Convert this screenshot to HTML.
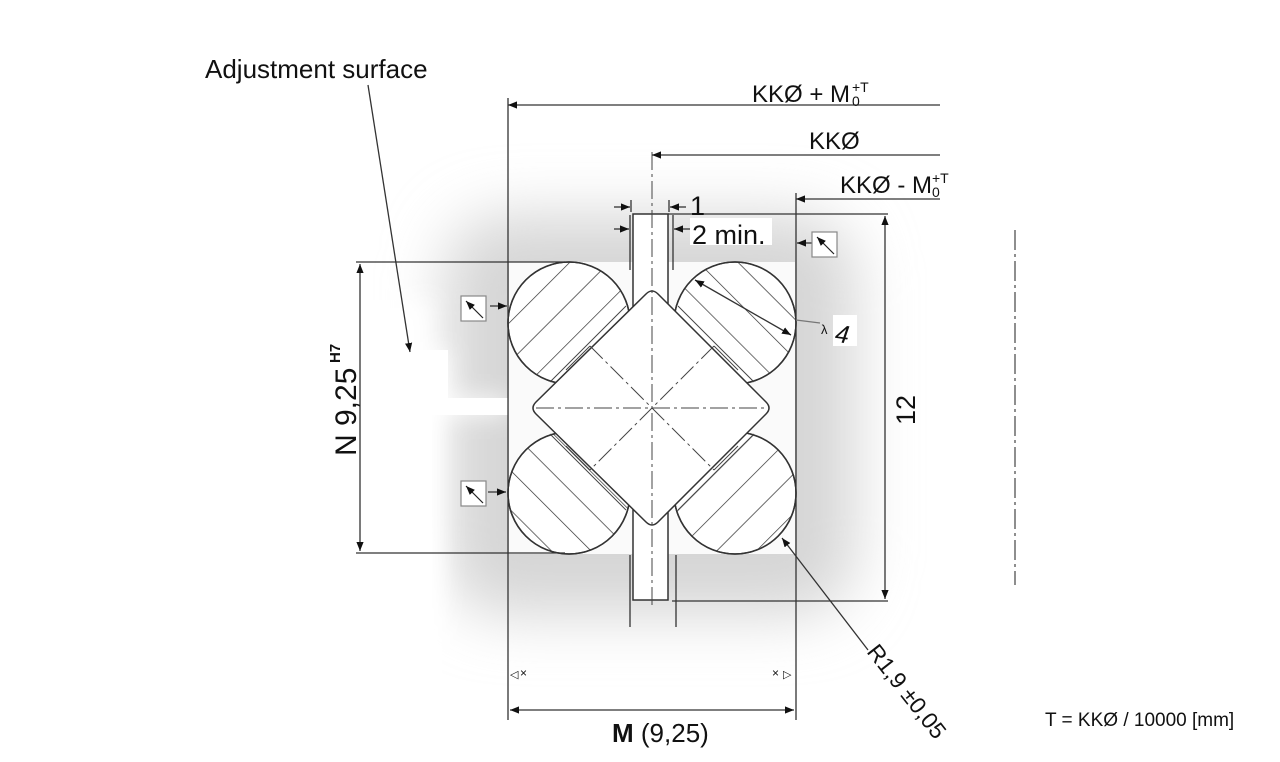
<!DOCTYPE html>
<html><head><style>
html,body{margin:0;padding:0;background:#fff;width:1280px;height:762px;overflow:hidden}
svg{display:block}
text{font-family:"Liberation Sans",sans-serif;fill:#111}
</style></head><body>
<svg width="1280" height="762" viewBox="0 0 1280 762" xmlns="http://www.w3.org/2000/svg">
<defs>
<filter id="bl" x="-40%" y="-40%" width="180%" height="180%"><feGaussianBlur stdDeviation="30"/></filter>
<filter id="bl2" x="-40%" y="-40%" width="180%" height="180%"><feGaussianBlur stdDeviation="12"/></filter>
<pattern id="h1" width="28" height="28" patternUnits="userSpaceOnUse" patternTransform="rotate(45)"><line x1="0" y1="0" x2="0" y2="28" stroke="#333" stroke-width="1.4"/></pattern>
<pattern id="h2" width="28" height="28" patternUnits="userSpaceOnUse" patternTransform="rotate(-45)"><line x1="0" y1="0" x2="0" y2="28" stroke="#333" stroke-width="1.4"/></pattern>
<marker id="a" viewBox="0 0 10 10" refX="10" refY="5" markerWidth="9" markerHeight="9" orient="auto-start-reverse" markerUnits="userSpaceOnUse"><path d="M0,1 L10,5 L0,9 z" fill="#111"/></marker>
</defs>
<g filter="url(#bl)">
<rect x="445" y="215" width="410" height="400" rx="60" fill="#d6d6d6"/>
</g>
<g filter="url(#bl2)"><rect x="250" y="300" width="180" height="360" fill="#fff"/></g>
<path d="M397,350 L448,350 L448,398 L508,398 L508,415 L442,415 L442,700 L300,700 L300,350 z" fill="#fff" filter="url(#bl2)"/>
<path d="M397,350 L448,350 L448,398 L508,398 L508,415 L432,415 L432,640 L300,640 L300,350 z" fill="#fff"/>
<rect x="509" y="262" width="286" height="292" fill="#fafafa"/>
<rect x="633" y="214" width="35" height="386" fill="#fff" stroke="#333" stroke-width="1.5"/>
<g stroke="#333" stroke-width="1.5">
<circle cx="569" cy="323" r="61" fill="#fff"/><circle cx="569" cy="323" r="61" fill="url(#h1)"/>
<circle cx="735" cy="323" r="61" fill="#fff"/><circle cx="735" cy="323" r="61" fill="url(#h2)"/>
<circle cx="569" cy="493" r="61" fill="#fff"/><circle cx="569" cy="493" r="61" fill="url(#h2)"/>
<circle cx="735" cy="493" r="61" fill="#fff"/><circle cx="735" cy="493" r="61" fill="url(#h1)"/>
</g>
<path d="M646,294 Q652,288 658,294 L766,402 Q772,408 766,414 L658,522 Q652,528 646,522 L536,414 Q530,408 536,402 z" fill="#fff" stroke="#333" stroke-width="1.5"/>
<g stroke="#444" stroke-width="1" fill="none">
<line x1="626" y1="306" x2="550" y2="382"/><line x1="678" y1="306" x2="754" y2="382"/>
<line x1="626" y1="510" x2="550" y2="434"/><line x1="678" y1="510" x2="754" y2="434"/>
<line x1="590" y1="346" x2="566" y2="370"/><line x1="714" y1="346" x2="738" y2="370"/>
<line x1="590" y1="470" x2="566" y2="446"/><line x1="714" y1="470" x2="738" y2="446"/>
</g>
<g stroke="#444" stroke-width="1" stroke-dasharray="18,4,3,4" fill="none">
<line x1="652" y1="152" x2="652" y2="605"/>
<line x1="536" y1="408" x2="768" y2="408"/>
<line x1="590" y1="346" x2="714" y2="470"/><line x1="714" y1="346" x2="590" y2="470"/>
</g>
<g stroke="#333" stroke-width="1.3" fill="none">
<line x1="508" y1="98" x2="508" y2="720"/>
<line x1="796" y1="193" x2="796" y2="720"/>
<line x1="630" y1="215" x2="630" y2="270"/><line x1="673" y1="215" x2="673" y2="270"/>
<line x1="631" y1="200" x2="631" y2="212"/><line x1="669" y1="200" x2="669" y2="212"/>
<line x1="630" y1="555" x2="630" y2="627"/><line x1="676" y1="555" x2="676" y2="627"/>
<line x1="668" y1="214" x2="888" y2="214"/><line x1="672" y1="601" x2="888" y2="601"/>
<line x1="356" y1="262" x2="565" y2="262"/><line x1="356" y1="553" x2="565" y2="553"/>
<line x1="508" y1="105" x2="940" y2="105" marker-start="url(#a)"/>
<line x1="652" y1="155" x2="940" y2="155" marker-start="url(#a)"/>
<line x1="796" y1="199" x2="940" y2="199" marker-start="url(#a)"/>
<line x1="885" y1="216" x2="885" y2="599" marker-start="url(#a)" marker-end="url(#a)"/>
<line x1="360" y1="264" x2="360" y2="551" marker-start="url(#a)" marker-end="url(#a)"/>
<line x1="510" y1="710" x2="794" y2="710" marker-start="url(#a)" marker-end="url(#a)"/>
<line x1="614" y1="207" x2="630" y2="207" marker-end="url(#a)"/>
<line x1="686" y1="207" x2="670" y2="207" marker-end="url(#a)"/>
<line x1="614" y1="229" x2="629" y2="229" marker-end="url(#a)"/>
<line x1="690" y1="229" x2="674" y2="229" marker-end="url(#a)"/>
<line x1="812" y1="243" x2="797" y2="243" marker-end="url(#a)"/>
<line x1="490" y1="306" x2="507" y2="306" marker-end="url(#a)"/>
<line x1="488" y1="492" x2="506" y2="492" marker-end="url(#a)"/>
<line x1="368" y1="85" x2="410" y2="352" marker-end="url(#a)"/>
<line x1="695" y1="280" x2="791" y2="335" marker-start="url(#a)" marker-end="url(#a)"/>
<line x1="796" y1="320" x2="820" y2="323" stroke="#777"/>
<line x1="782" y1="538" x2="868" y2="650" marker-start="url(#a)"/>
</g>
<line x1="1015" y1="230" x2="1015" y2="585" stroke="#444" stroke-width="1.2" stroke-dasharray="20,4,3,4"/>
<g fill="#fff" stroke="#888" stroke-width="1.2">
<rect x="812" y="232" width="25" height="25"/><rect x="461" y="296" width="25" height="25"/><rect x="461" y="481" width="25" height="25"/>
</g>
<g stroke="#222" stroke-width="1.2">
<line x1="834" y1="254" x2="817" y2="237" marker-end="url(#a)"/>
<line x1="483" y1="318" x2="466" y2="301" marker-end="url(#a)"/>
<line x1="483" y1="503" x2="466" y2="486" marker-end="url(#a)"/>
</g>
<g font-size="11" fill="#555"><text x="510" y="678">◁</text><text x="520" y="677" style="font-size:12px">×</text><text x="772" y="677" style="font-size:12px">×</text><text x="783" y="678">▷</text></g>
<text x="205" y="78" font-size="26">Adjustment surface</text>
<text x="752" y="102" font-size="24">KKØ + M</text><text x="852" y="92" font-size="14">+T</text><text x="852" y="106" font-size="14">0</text>
<text x="809" y="149" font-size="24">KKØ</text>
<text x="840" y="193" font-size="24">KKØ - M</text><text x="932" y="183" font-size="14">+T</text><text x="932" y="197" font-size="14">0</text>
<text x="690" y="215" font-size="27">1</text>
<rect x="690" y="218" width="82" height="27" fill="#fff"/>
<text x="692" y="244" font-size="27">2 min.</text>
<text x="821" y="334" font-size="13">λ</text>
<rect x="833" y="315" width="24" height="31" fill="#fff"/>
<text x="836" y="343" font-size="25" font-style="italic" transform="rotate(8 845 330)">4</text>
<text x="0" y="0" font-size="27" transform="translate(915,410) rotate(-90)" text-anchor="middle">12</text>
<text x="0" y="0" font-size="30" transform="translate(356,456) rotate(-90)">N 9,25</text>
<text x="0" y="0" font-size="15" font-weight="bold" transform="translate(340,363) rotate(-90)">H7</text>
<text x="0" y="0" font-size="23" transform="translate(866,652) rotate(52)">R1,9 ±0,05</text>
<text x="612" y="742" font-size="26"><tspan font-weight="bold">M</tspan> (9,25)</text>
<text x="1045" y="726" font-size="19">T = KKØ / 10000 [mm]</text>
</svg>
</body></html>
